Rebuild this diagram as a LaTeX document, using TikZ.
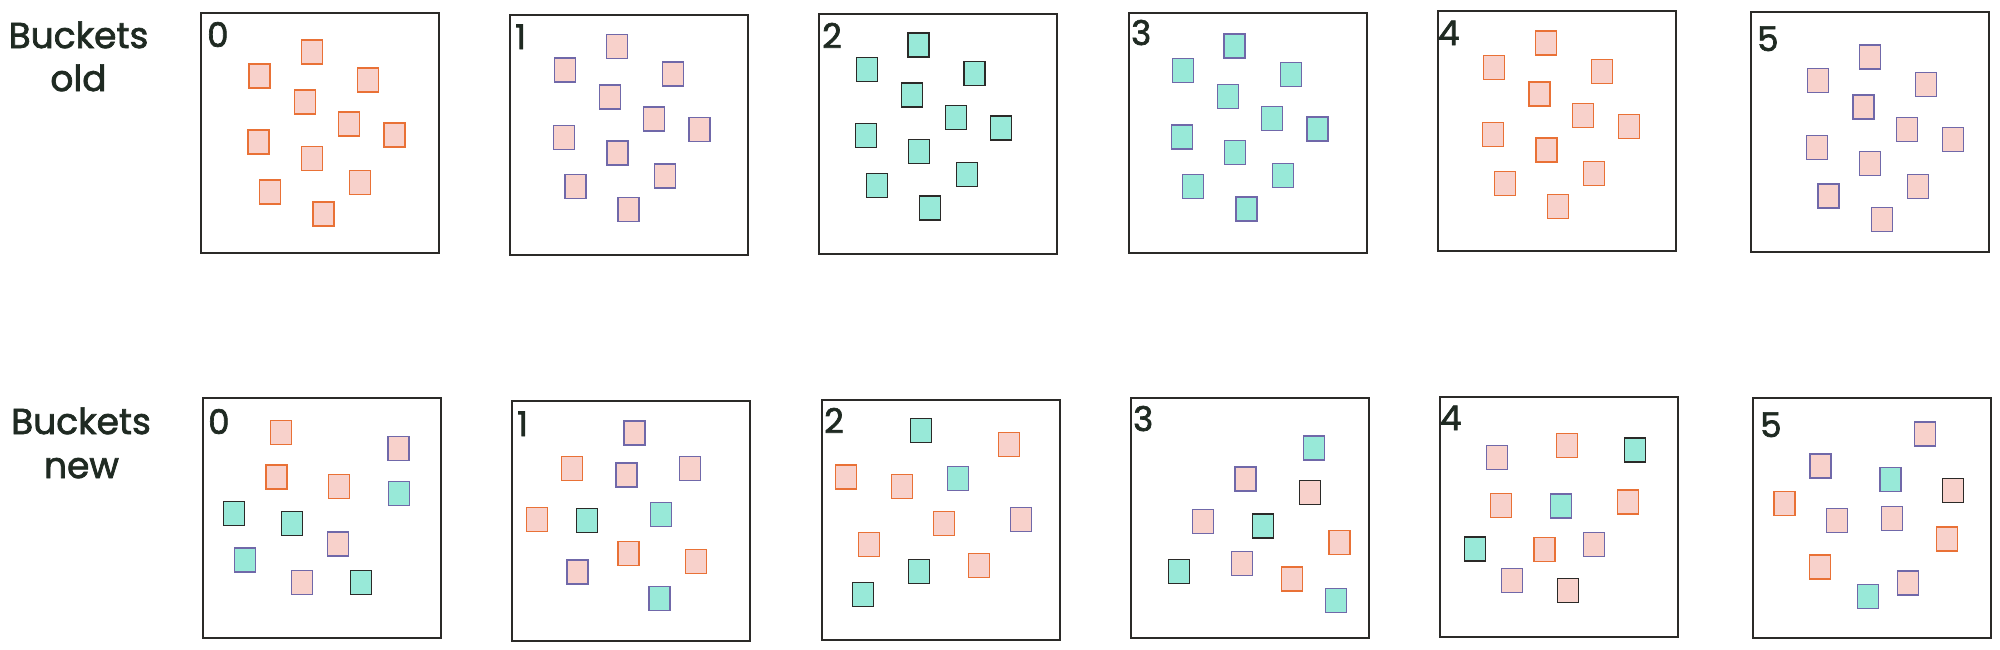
\documentclass[tikz,border=0pt]{standalone}
\usepackage{fontspec}
\setmainfont{Poppins}
\newfontfamily\handfont{Poppins}[FakeBold=2]
\definecolor{pinkf}{HTML}{F8D1CB}
\definecolor{tealf}{HTML}{98E9D8}
\definecolor{orangeS}{HTML}{E97136}
\definecolor{purpleS}{HTML}{7068A9}
\definecolor{darkS}{HTML}{2B2A28}
\definecolor{inkc}{HTML}{1F2A22}
\tikzset{
  bucket/.style={draw=darkS, line width=2pt, minimum width=238pt, minimum height=240pt, inner sep=0pt, anchor=north west},
  sq/.style={line width=1.4pt, minimum width=21pt, minimum height=24pt, inner sep=0pt, anchor=north west},
  po/.style={sq, fill=pinkf, draw=orangeS},
  pp/.style={sq, fill=pinkf, draw=purpleS},
  pd/.style={sq, fill=pinkf, draw=darkS},
  tp/.style={sq, fill=tealf, draw=purpleS},
  td/.style={sq, fill=tealf, draw=darkS},
  lbl/.style={text=inkc, font=\handfont\fontsize{36}{40}\selectfont, anchor=base, inner sep=0pt},
  num/.style={text=inkc, font=\handfont\fontsize{34}{38}\selectfont, anchor=base west, inner sep=0pt}
}
\begin{document}
\begin{tikzpicture}[x=1pt, y=-1pt]
\useasboundingbox (0,0) rectangle (2000,649);
% labels
\node[lbl] (lbOldA) at (78.5,48) {Buckets};
\node[lbl] (lbOldB) at (78.5,91) {old};
\node[lbl] (lbNewA) at (81,434) {Buckets};
\node[lbl] (lbNewB) at (81.5,478) {new};
% top row buckets
\node[bucket] (T0) at (200.3,11.7) {};
\node[bucket] (T1) at (508.7,14.3) {};
\node[bucket] (T2) at (818.3,13.3) {};
\node[bucket] (T3) at (1128.3,11.7) {};
\node[bucket] (T4) at (1436.7,10.3) {};
\node[bucket] (T5) at (1749.7,11) {};
% bottom row buckets
\node[bucket] (B0) at (202.3,397.3) {};
\node[bucket] (B1) at (510.7,400) {};
\node[bucket] (B2) at (820.7,399) {};
\node[bucket] (B3) at (1130.3,396.7) {};
\node[bucket] (B4) at (1438.7,395.7) {};
\node[bucket] (B5) at (1751.7,396.7) {};
% numbers top
\node[num] (nT0) at (207,47) {0};
\node[num] (nT1) at (515,49) {1};
\node[num] (nT2) at (822,48) {2};
\node[num] (nT3) at (1131,45) {3};
\node[num] (nT4) at (1438,45) {4};
\node[num] (nT5) at (1757,51) {5};
% numbers bottom
\node[num] (nB0) at (208,434) {0};
\node[num] (nB1) at (517,436) {1};
\node[num] (nB2) at (824,433) {2};
\node[num] (nB3) at (1133,431) {3};
\node[num] (nB4) at (1440,430) {4};
\node[num] (nB5) at (1760,437) {5};
% top row squares
\foreach \x/\y/\s [count=\i] in {300.7/39.3/po, 248.3/63.3/po, 356.7/67.3/po, 293.7/89.3/po, 337.7/111.3/po, 383.3/122.3/po, 247.3/129.3/po, 300.7/146/po, 348.7/169.7/po, 258.7/179.3/po, 312.3/201.3/po}
  \node[\s] (t0-\i) at (\x,\y) {};
\foreach \x/\y/\s [count=\i] in {605.7/34/pp, 553.7/57.3/pp, 661.7/61.3/pp, 599/84.3/pp, 642.7/106.3/pp, 688.3/116.7/pp, 552.7/124.7/pp, 606.3/140.3/pp, 653.7/163.3/pp, 564.3/173.7/pp, 617.3/196.7/pp}
  \node[\s] (t1-\i) at (\x,\y) {};
\foreach \x/\y/\s [count=\i] in {907.3/32.3/td, 855.7/56.7/td, 963.3/60.7/td, 900.7/82.3/td, 944.7/104.7/td, 990/115.3/td, 854.7/122.7/td, 907.7/138.7/td, 955.7/161.7/td, 865.7/172.7/td, 919/195.3/td}
  \node[\s] (t2-\i) at (\x,\y) {};
\foreach \x/\y/\s [count=\i] in {1223.3/33.3/tp, 1171.7/57.7/tp, 1279.7/61.7/tp, 1216.7/84/tp, 1260.7/106/tp, 1306.3/116.3/tp, 1170.7/124.3/tp, 1223.7/140/tp, 1271.7/163/tp, 1182/173.7/tp, 1235.3/196.3/tp}
  \node[\s] (t3-\i) at (\x,\y) {};
\foreach \x/\y/\s [count=\i] in {1534.7/30.3/po, 1482.7/54.7/po, 1590.7/58.7/po, 1528.3/81.3/po, 1572/102.7/po, 1617.7/113.7/po, 1481.7/121.7/po, 1535.3/137.3/po, 1582.7/160.7/po, 1493.7/170.7/po, 1546.7/193.7/po}
  \node[\s] (t4-\i) at (\x,\y) {};
\foreach \x/\y/\s [count=\i] in {1858.7/44.3/pp, 1807/68/pp, 1915/71.7/pp, 1852.3/94.3/pp, 1896/116.7/pp, 1941.7/127/pp, 1805.7/134.7/pp, 1859/150.7/pp, 1906.7/173.7/pp, 1817.3/183.3/pp, 1870.7/206.7/pp}
  \node[\s] (t5-\i) at (\x,\y) {};
% bottom row squares
\foreach \x/\y/\s [count=\i] in {270/419.7/po, 387.3/436/pp, 265.3/464.3/po, 328/473.7/po, 387.7/480.7/tp, 222.7/500.7/td, 281/511/td, 326.7/531.3/pp, 233.7/547.3/tp, 290.7/570/pp, 350/569.7/td}
  \node[\s] (b0-\i) at (\x,\y) {};
\foreach \x/\y/\s [count=\i] in {623.3/420.3/pp, 560.7/455.7/po, 615.3/462.3/pp, 678.7/455.7/pp, 525.7/506.7/po, 575.7/507.7/td, 650/501.7/tp, 617.3/540.7/po, 684.7/549/po, 566.3/559.3/pp, 648.3/586/tp}
  \node[\s] (b1-\i) at (\x,\y) {};
\foreach \x/\y/\s [count=\i] in {909.7/418/td, 997.7/432/po, 834.7/464.3/po, 891/474/po, 946.7/465.7/tp, 1009.7/507/pp, 932.7/511/po, 857.7/531.7/po, 968/553/po, 907.7/559/td, 851.7/581.7/td}
  \node[\s] (b2-\i) at (\x,\y) {};
\foreach \x/\y/\s [count=\i] in {1302.7/435.3/tp, 1234.3/466.3/pp, 1298.7/479.7/pd, 1191.7/509/pp, 1251.7/513.3/td, 1328.3/530/po, 1231/550.7/pp, 1167.7/558.7/td, 1280.7/566.3/po, 1325/588/tp}
  \node[\s] (b3-\i) at (\x,\y) {};
\foreach \x/\y/\s [count=\i] in {1485.7/444.7/pp, 1555.7/432.7/po, 1623.7/437.3/td, 1489.7/492.7/po, 1549.7/493.3/tp, 1616.7/489.3/po, 1463.7/536.3/td, 1533.3/536.7/po, 1582.7/532/pp, 1500.7/567.7/pp, 1557/578/pd}
  \node[\s] (b4-\i) at (\x,\y) {};
\foreach \x/\y/\s [count=\i] in {1913.7/421.3/pp, 1809.3/453.3/pp, 1879.3/466.7/tp, 1942/477.7/pd, 1773.3/490.7/po, 1826/508/pp, 1880.7/505.7/pp, 1935.7/526.3/po, 1808.7/554.3/po, 1897/570.3/pp, 1856.7/583.7/tp}
  \node[\s] (b5-\i) at (\x,\y) {};
\end{tikzpicture}
\end{document}
